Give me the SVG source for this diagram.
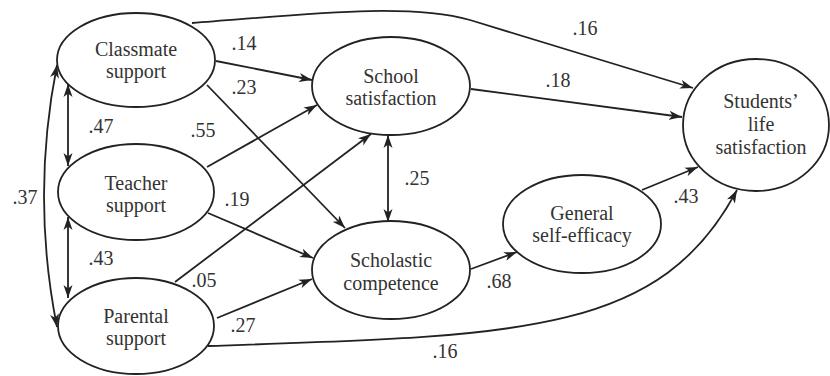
<svg xmlns="http://www.w3.org/2000/svg" width="830" height="376" viewBox="0 0 830 376" font-family="'Liberation Serif', 'Times New Roman', serif">
<style>
.n ellipse{fill:#fff;stroke:#222;stroke-width:1.8}
text{font-family:'Liberation Serif', 'Times New Roman', serif;font-size:20px;fill:#333;text-anchor:middle}
.c path{fill:none;stroke:#222;stroke-width:1.8}
.a{marker-end:url(#ah)}
.b{marker-start:url(#ah);marker-end:url(#ah)}
</style>
<defs>
<marker id="ah" markerUnits="userSpaceOnUse" markerWidth="14" markerHeight="10" refX="13" refY="5" orient="auto-start-reverse">
<path d="M0,0.5 L13,5 L0,9.5 L3.5,5 z" fill="#222"/>
</marker>
</defs>
<rect width="830" height="376" fill="#fff"/>
<g class="c">
<path class="a" d="M192,23 C 300,15 405,2 470,20 L 693,88"/>
<path class="a" d="M216,61 L312,80"/>
<path class="a" d="M207,85 L345,228"/>
<path class="a" d="M207,167 L317,105"/>
<path class="a" d="M208,213 L313,258"/>
<path class="a" d="M175,282 L371,134"/>
<path class="a" d="M217,318 L312,279"/>
<path class="a" d="M208,346 C 520,336 660,335 737,190"/>
<path class="a" d="M471,89 L682,117"/>
<path class="a" d="M642,190 L698,167"/>
<path class="a" d="M471,269 L517,252"/>
<path class="b" d="M388,135 L388,222"/>
<path class="b" d="M68,84 L68,166"/>
<path class="b" d="M68,217 L68,298"/>
<path class="b" d="M57,65 Q 31,196 57,327"/>
</g>
<g id="classmate" class="n"><ellipse cx="136" cy="60" rx="79" ry="47"/><text x="136" y="56">Classmate</text><text x="136" y="78">support</text></g>
<g id="teacher" class="n"><ellipse cx="136" cy="192" rx="78" ry="48"/><text x="136" y="190">Teacher</text><text x="136" y="212">support</text></g>
<g id="parental" class="n"><ellipse cx="136" cy="326" rx="78" ry="48"/><text x="136" y="323">Parental</text><text x="136" y="345">support</text></g>
<g id="school" class="n"><ellipse cx="391" cy="86" rx="79" ry="49"/><text x="391" y="83">School</text><text x="391" y="105">satisfaction</text></g>
<g id="scholastic" class="n"><ellipse cx="391" cy="270" rx="79" ry="49"/><text x="391" y="267">Scholastic</text><text x="391" y="290">competence</text></g>
<g id="efficacy" class="n"><ellipse cx="582" cy="224" rx="79" ry="49"/><text x="582" y="220">General</text><text x="582" y="242">self-efficacy</text></g>
<g id="life" class="n"><ellipse cx="756" cy="125" rx="73" ry="66"/><text x="761" y="108">Students’</text><text x="761" y="131">life</text><text x="761" y="154">satisfaction</text></g>
<g id="labels">
<text x="585" y="35">.16</text>
<text x="244" y="50">.14</text>
<text x="244" y="94">.23</text>
<text x="101" y="133">.47</text>
<text x="203" y="137">.55</text>
<text x="25" y="204">.37</text>
<text x="237" y="206">.19</text>
<text x="101" y="265">.43</text>
<text x="204" y="287">.05</text>
<text x="243" y="332">.27</text>
<text x="558" y="87">.18</text>
<text x="417" y="185">.25</text>
<text x="499" y="288">.68</text>
<text x="445" y="358">.16</text>
<text x="686" y="203">.43</text>
</g>
</svg>
